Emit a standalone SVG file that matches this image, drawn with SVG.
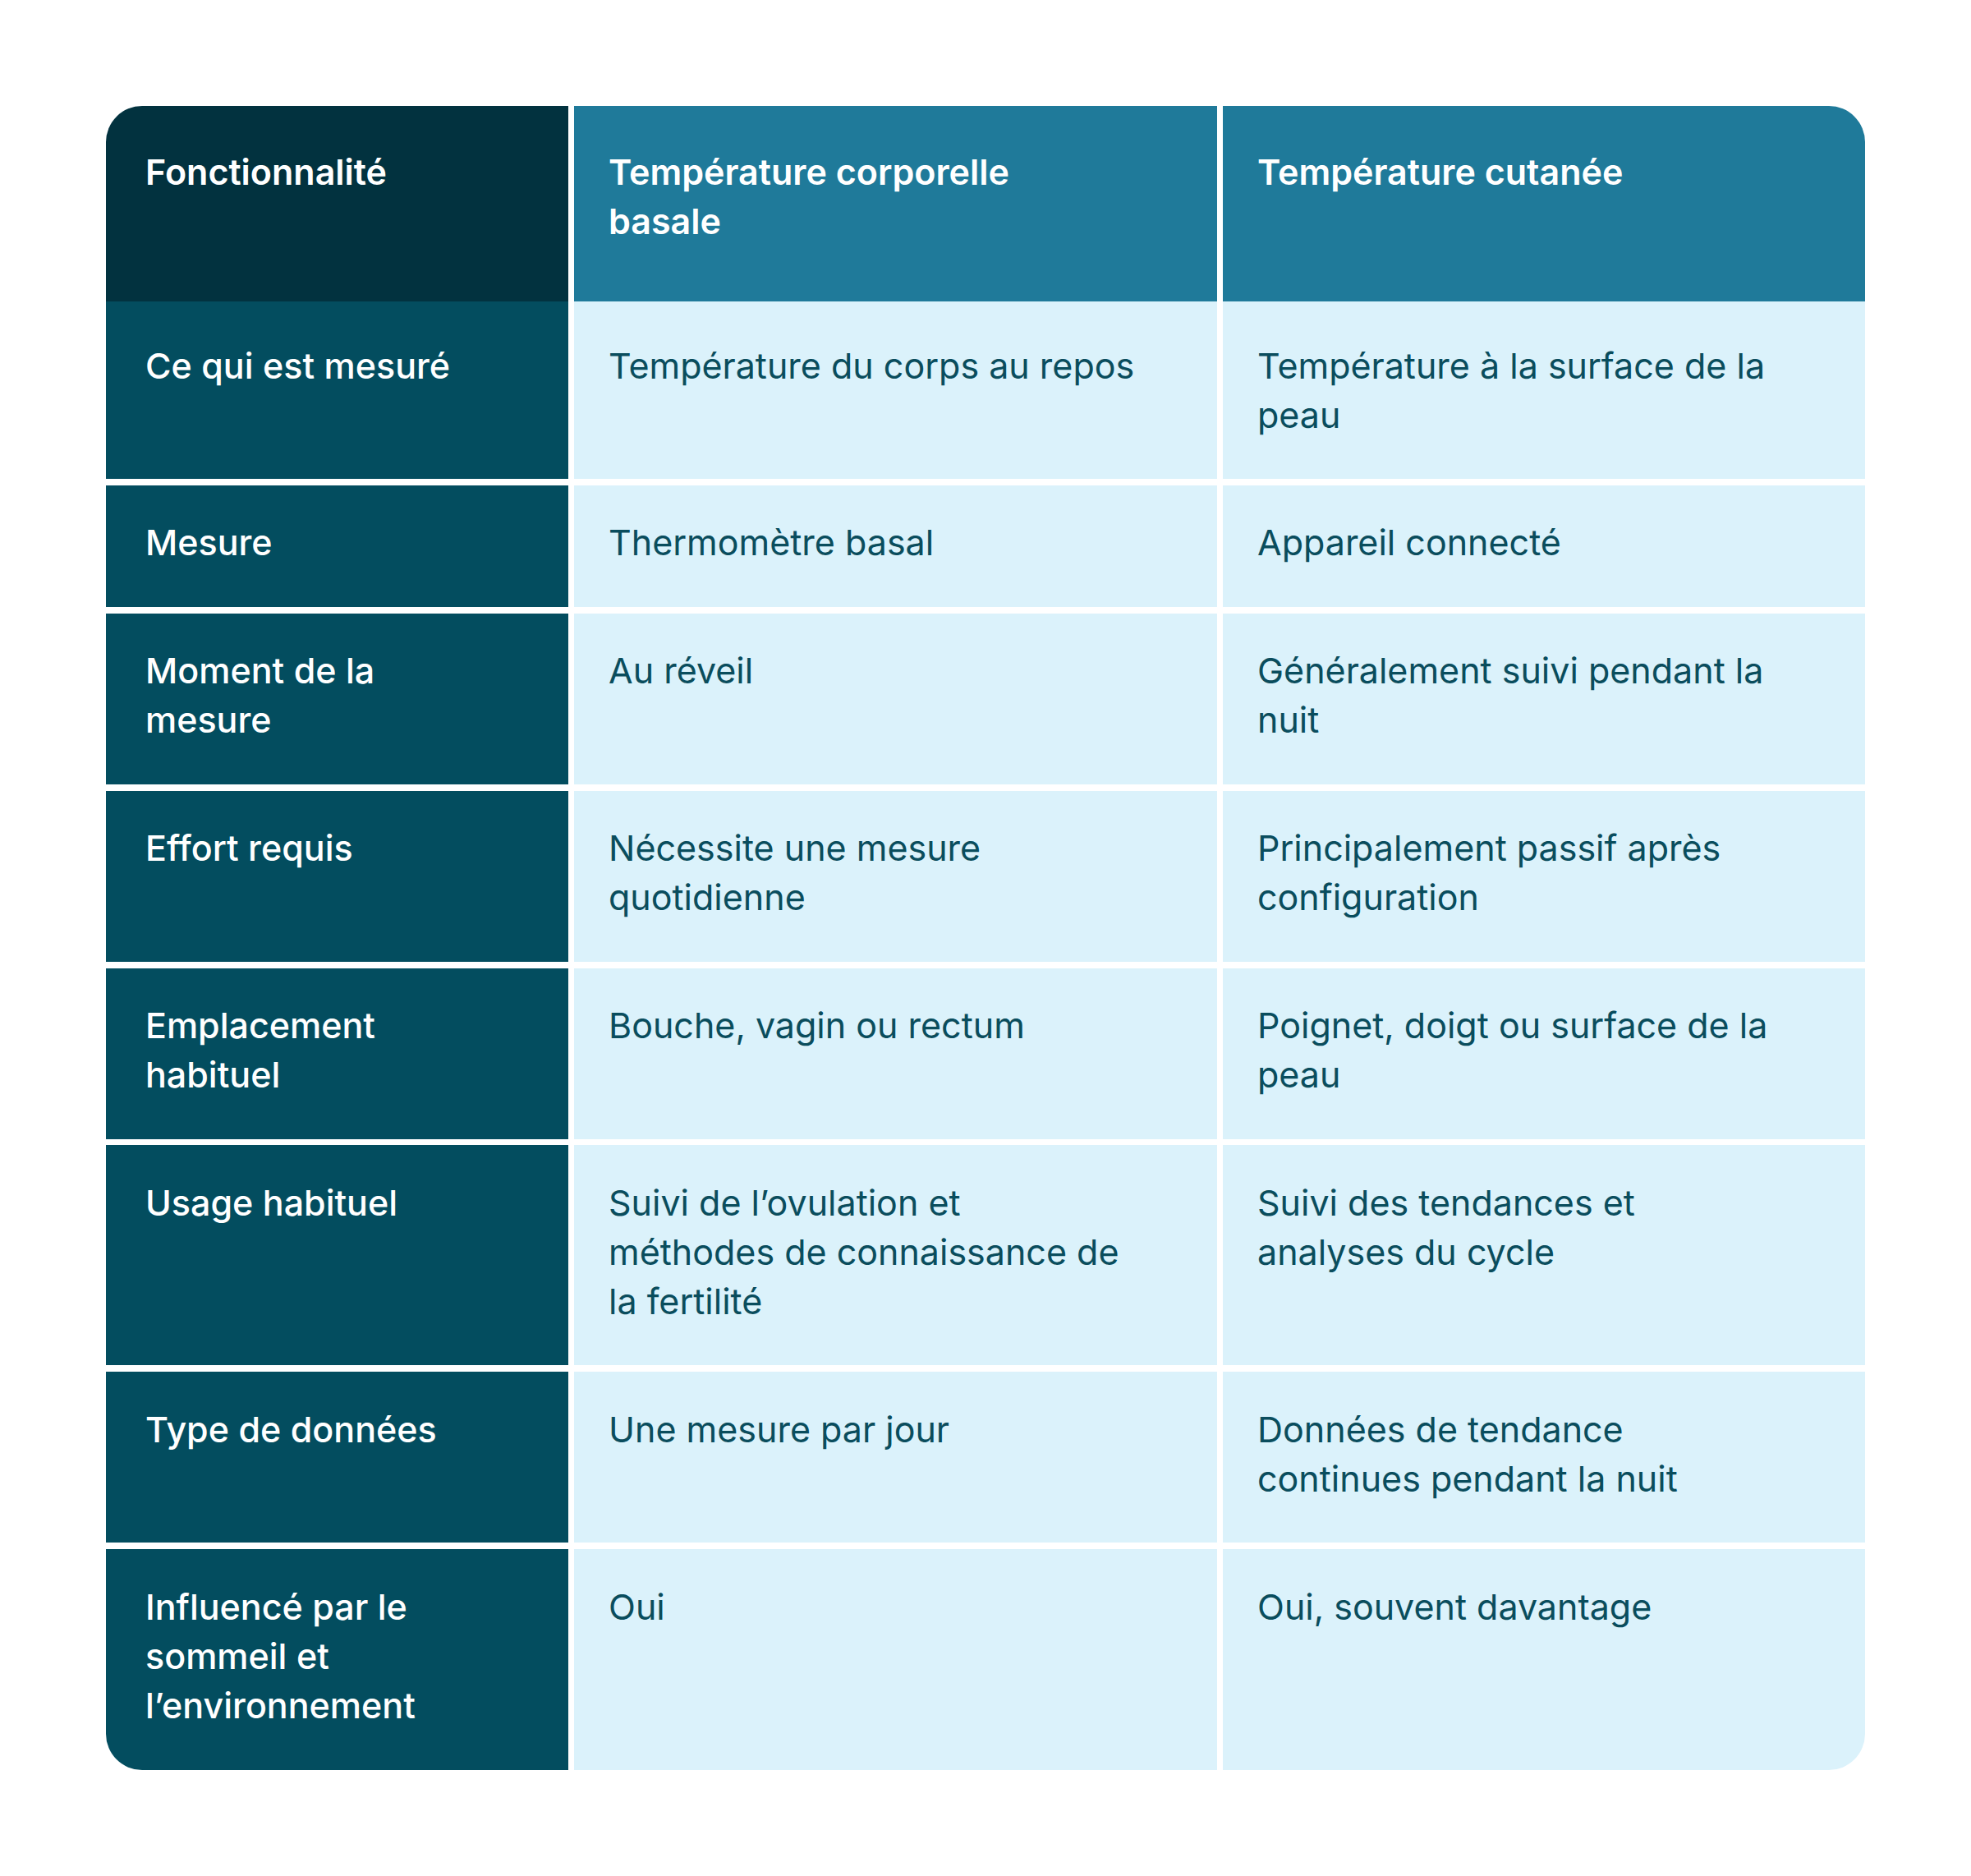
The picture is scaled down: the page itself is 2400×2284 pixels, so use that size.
<svg xmlns="http://www.w3.org/2000/svg" width="2400" height="2284" viewBox="0 0 2400 2284">
<style>
.t{font-family:Inter,"Noto Sans",sans-serif;font-size:43px;}
.h{font-weight:600;fill:#ffffff;}
.k{font-weight:500;fill:#ffffff;}
.v{font-weight:400;fill:#0a4d5d;}
.c1{fill:#034d5f;}
.hd{fill:#1f7a9a;}
.bd{fill:#dbf2fb;}
</style>
<defs><clipPath id="cp"><rect x="129" y="129" width="2142" height="2026" rx="44"/></clipPath></defs>
<rect width="2400" height="2284" fill="#ffffff"/>
<g clip-path="url(#cp)">
<g id="header">
<rect x="129" y="129" width="563" height="238" fill="#02323f"/>
<rect class="hd" x="699" y="129" width="783" height="238"/>
<rect class="hd" x="1489" y="129" width="782" height="238"/>
<text class="t h" x="177" y="225">Fonctionnalité</text>
<text class="t h" x="741" y="225">Température corporelle</text>
<text class="t h" x="741" y="285">basale</text>
<text class="t h" x="1531" y="225">Température cutanée</text>
</g>
<g id="row1">
<rect class="c1" x="129" y="367" width="563" height="216"/><rect class="bd" x="699" y="367" width="783" height="216"/><rect class="bd" x="1489" y="367" width="782" height="216"/>
<text class="t k" x="177" y="461">Ce qui est mesuré</text>
<text class="t v" x="741" y="461">Température du corps au repos</text>
<text class="t v" x="1531" y="461">Température à la surface de la</text>
<text class="t v" x="1531" y="521">peau</text>
</g>
<g id="row2">
<rect class="c1" x="129" y="591" width="563" height="148"/><rect class="bd" x="699" y="591" width="783" height="148"/><rect class="bd" x="1489" y="591" width="782" height="148"/>
<text class="t k" x="177" y="676">Mesure</text>
<text class="t v" x="741" y="676">Thermomètre basal</text>
<text class="t v" x="1531" y="676">Appareil connecté</text>
</g>
<g id="row3">
<rect class="c1" x="129" y="747" width="563" height="208"/><rect class="bd" x="699" y="747" width="783" height="208"/><rect class="bd" x="1489" y="747" width="782" height="208"/>
<text class="t k" x="177" y="832">Moment de la</text>
<text class="t k" x="177" y="892">mesure</text>
<text class="t v" x="741" y="832">Au réveil</text>
<text class="t v" x="1531" y="832">Généralement suivi pendant la</text>
<text class="t v" x="1531" y="892">nuit</text>
</g>
<g id="row4">
<rect class="c1" x="129" y="963" width="563" height="208"/><rect class="bd" x="699" y="963" width="783" height="208"/><rect class="bd" x="1489" y="963" width="782" height="208"/>
<text class="t k" x="177" y="1048">Effort requis</text>
<text class="t v" x="741" y="1048">Nécessite une mesure</text>
<text class="t v" x="741" y="1108">quotidienne</text>
<text class="t v" x="1531" y="1048">Principalement passif après</text>
<text class="t v" x="1531" y="1108">configuration</text>
</g>
<g id="row5">
<rect class="c1" x="129" y="1179" width="563" height="208"/><rect class="bd" x="699" y="1179" width="783" height="208"/><rect class="bd" x="1489" y="1179" width="782" height="208"/>
<text class="t k" x="177" y="1264">Emplacement</text>
<text class="t k" x="177" y="1324">habituel</text>
<text class="t v" x="741" y="1264">Bouche, vagin ou rectum</text>
<text class="t v" x="1531" y="1264">Poignet, doigt ou surface de la</text>
<text class="t v" x="1531" y="1324">peau</text>
</g>
<g id="row6">
<rect class="c1" x="129" y="1394" width="563" height="268"/><rect class="bd" x="699" y="1394" width="783" height="268"/><rect class="bd" x="1489" y="1394" width="782" height="268"/>
<text class="t k" x="177" y="1480">Usage habituel</text>
<text class="t v" x="741" y="1480">Suivi de l’ovulation et</text>
<text class="t v" x="741" y="1540">méthodes de connaissance de</text>
<text class="t v" x="741" y="1600">la fertilité</text>
<text class="t v" x="1531" y="1480">Suivi des tendances et</text>
<text class="t v" x="1531" y="1540">analyses du cycle</text>
</g>
<g id="row7">
<rect class="c1" x="129" y="1670" width="563" height="208"/><rect class="bd" x="699" y="1670" width="783" height="208"/><rect class="bd" x="1489" y="1670" width="782" height="208"/>
<text class="t k" x="177" y="1756">Type de données</text>
<text class="t v" x="741" y="1756">Une mesure par jour</text>
<text class="t v" x="1531" y="1756">Données de tendance</text>
<text class="t v" x="1531" y="1816">continues pendant la nuit</text>
</g>
<g id="row8">
<rect class="c1" x="129" y="1886" width="563" height="269"/><rect class="bd" x="699" y="1886" width="783" height="269"/><rect class="bd" x="1489" y="1886" width="782" height="269"/>
<text class="t k" x="177" y="1972">Influencé par le</text>
<text class="t k" x="177" y="2032">sommeil et</text>
<text class="t k" x="177" y="2092">l’environnement</text>
<text class="t v" x="741" y="1972">Oui</text>
<text class="t v" x="1531" y="1972">Oui, souvent davantage</text>
</g>
</g>
</svg>
